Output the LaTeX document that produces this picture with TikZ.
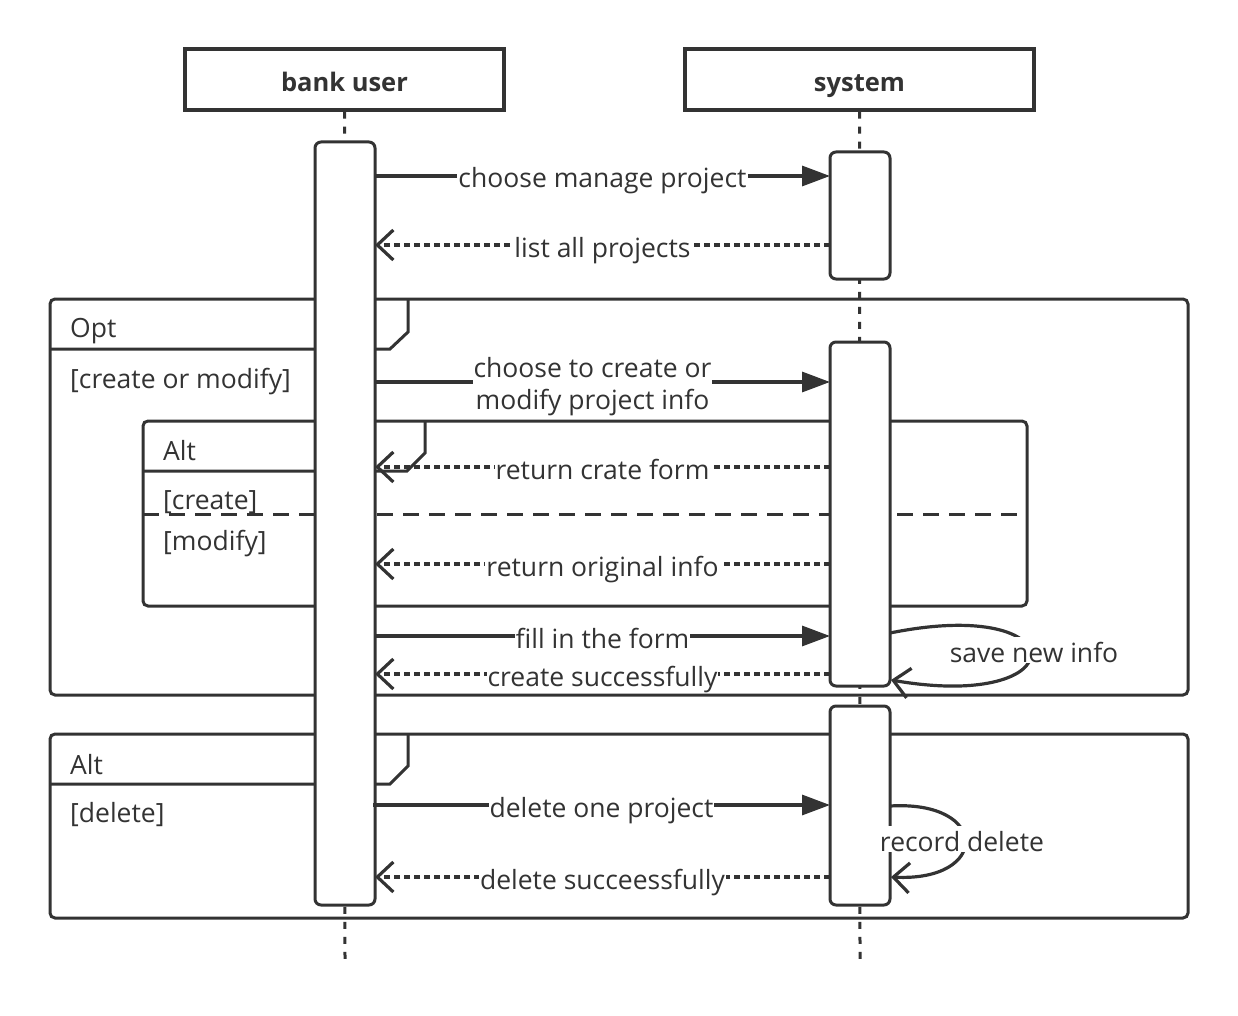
\documentclass[tikz,border=0pt]{standalone}
\usepackage{fontspec}
\setmainfont{Open Sans}
\usetikzlibrary{arrows.meta}
\definecolor{dk}{HTML}{333333}
\begin{document}
\begin{tikzpicture}[x=1pt,y=-1pt,
  ln/.style={draw=dk, line width=3pt},
  frame/.style={draw=dk, line width=3pt, rounded corners=5pt},
  hdr/.style={draw=dk, line width=3.5pt, fill=white, font=\bfseries\fontsize{25.5}{30}\selectfont, text=dk, inner sep=0pt, text height=25pt, text depth=0pt},
  actbox/.style={draw=dk, fill=white, line width=3pt, rounded corners=6pt, inner sep=0pt, minimum width=60pt},
  lifeline/.style={draw=dk, line width=3pt, dash pattern=on 7pt off 8pt},
  sync/.style={draw=dk, line width=3.2pt, -{Triangle[length=28pt,width=20pt]}},
  reply/.style={draw=dk, line width=3.2pt, dash pattern=on 6pt off 4pt, -{Straight Barb[length=16pt,width=30pt]}},
  selfmsg/.style={draw=dk, line width=3.2pt, -{Straight Barb[length=16pt,width=30pt]}},
  lbl/.style={fill=white, inner sep=1pt, font=\fontsize{26.5}{31}\selectfont, text=dk, text height=24pt, text depth=0pt},
  ftxt/.style={inner sep=0pt, anchor=west, font=\fontsize{26.5}{31}\selectfont, text=dk}
]
\useasboundingbox (0,0) rectangle (1238,1016);

% frames
\draw[frame] (50,299) rectangle (1188,695);
\draw[ln] (50,349) -- (390,349) -- (408,332) -- (408,299);
\node[ftxt] (optt) at (70,331) {Opt};
\node[ftxt] (optg) at (70,382) {[create or modify]};

\draw[frame] (143,421) rectangle (1027,606);
\draw[ln] (143,471) -- (407,471) -- (425,453) -- (425,421);
\draw[ln, dash pattern=on 16pt off 10pt] (143,514) -- (1027,514);
\node[ftxt] (altt) at (163,451) {Alt};
\node[ftxt] (altg1) at (163,502) {[create]};
\node[ftxt] (altg2) at (163,544) {[modify]};

\draw[frame] (50,734) rectangle (1188,918);
\draw[ln] (50,784) -- (390,784) -- (408,766) -- (408,734);
\node[ftxt] (alt2t) at (70,765) {Alt};
\node[ftxt] (alt2g) at (70,815) {[delete]};

% actors
\node[hdr, minimum width=319pt, minimum height=61pt] (bu) at (344.5,79.5) {bank user};
\node[hdr, minimum width=349pt, minimum height=61pt] (sy) at (859.5,79.5) {system};
\coordinate (buend) at (345,965);
\coordinate (syend) at (860,965);
\draw[lifeline] (bu.south) -- (buend);
\draw[lifeline] (sy.south) -- (syend);

% activations
\node[actbox, minimum height=763pt] (ua) at (345,523.5) {};
\node[actbox, minimum height=127pt] (sa1) at (860,215.5) {};
\node[actbox, minimum height=344pt] (sa2) at (860,514) {};
\node[actbox, minimum height=199pt] (sa3) at (860,805.5) {};

% messages
\coordinate (m1a) at (375,176); \coordinate (m1b) at (830,176);
\draw[sync] (m1a) -- node[lbl] (l1) {choose manage project} (m1b);
\coordinate (m2a) at (830,245); \coordinate (m2b) at (375,245);
\draw[reply] (m2a) -- node[lbl] (l2) {list all projects} (m2b);
\coordinate (m3a) at (375,382); \coordinate (m3b) at (830,382);
\draw[sync] (m3a) -- node[lbl, align=center, xshift=-10pt, yshift=-5pt, font=\fontsize{26.5}{32}\selectfont, text height=, text depth=] (l3) {choose to create or\\modify project info} (m3b);
\coordinate (m4a) at (830,467); \coordinate (m4b) at (375,467);
\draw[reply] (m4a) -- node[lbl] (l4) {return crate form} (m4b);
\coordinate (m5a) at (830,564); \coordinate (m5b) at (375,564);
\draw[reply] (m5a) -- node[lbl] (l5) {return original info} (m5b);
\coordinate (m6a) at (375,636); \coordinate (m6b) at (830,636);
\draw[sync] (m6a) -- node[lbl] (l6) {fill in the form} (m6b);
\coordinate (m7a) at (830,674); \coordinate (m7b) at (375,674);
\draw[reply] (m7a) -- node[lbl] (l7) {create successfully} (m7b);
\coordinate (m9a) at (373,805); \coordinate (m9b) at (830,805);
\draw[sync] (m9a) -- node[lbl] (l9) {delete one project} (m9b);
\coordinate (m11a) at (830,877); \coordinate (m11b) at (375,877);
\draw[reply] (m11a) -- node[lbl] (l11) {delete succeessfully} (m11b);

% self messages
\coordinate (s1a) at (890,633); \coordinate (s1b) at (891,680);
\draw[selfmsg] (s1a) .. controls (1077,595) and (1077,712) .. (s1b);
\node[lbl] (l8) at (1034,650) {save new info};
\coordinate (s2a) at (890,806); \coordinate (s2b) at (891,877);
\draw[selfmsg] (s2a) .. controls (990,800) and (990,882) .. (s2b);
\node[lbl] (l10) at (962,839) {record delete};
\end{tikzpicture}
\end{document}
